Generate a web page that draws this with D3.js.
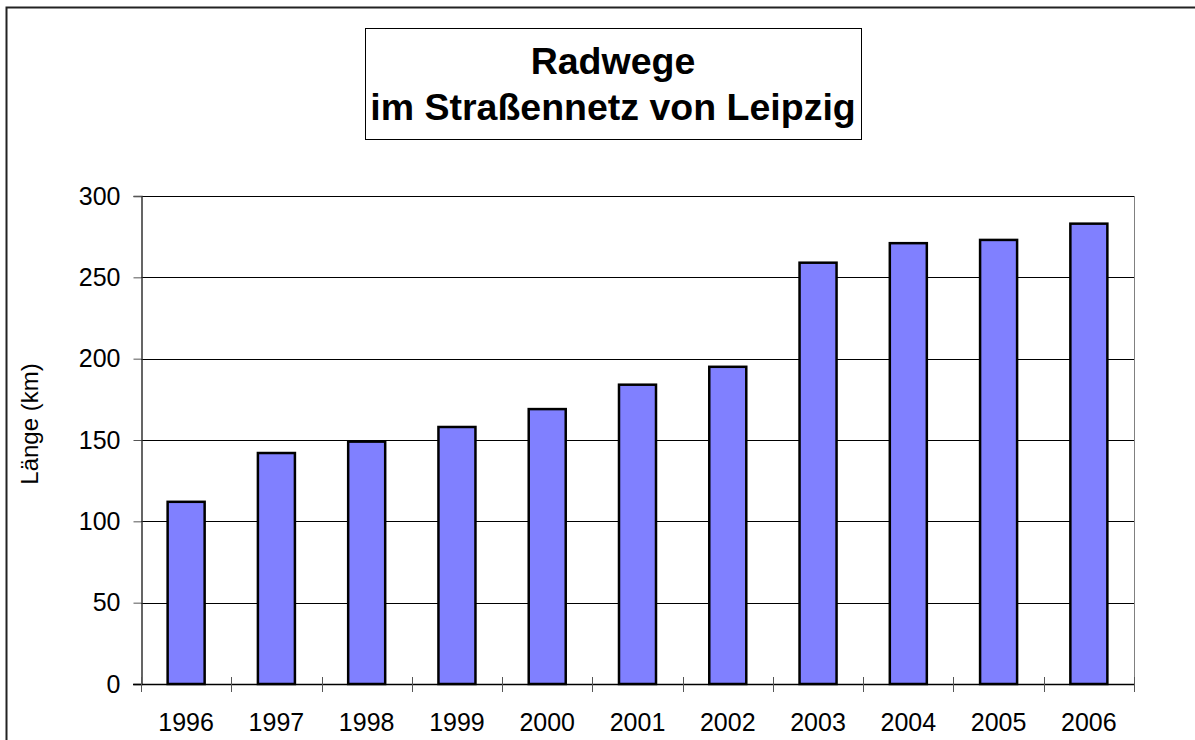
<!DOCTYPE html>
<html>
<head>
<meta charset="utf-8">
<script src="https://cdn.jsdelivr.net/npm/d3@7"></script>
<style>
  body { margin: 0; background: #fff; }
  svg { display: block; font-family: "Liberation Sans", Arial, sans-serif; }
</style>
</head>
<body>
<div id="chart"></div>
<script>
// data
const years = ["1996", "1997", "1998", "1999", "2000", "2001", "2002", "2003", "2004", "2005", "2006"];
const lengths = [112, 142, 149, 158, 169, 184, 195, 259, 271, 273, 283];
const yTicks = [0, 50, 100, 150, 200, 250, 300];
const titleLines = ["Radwege", "im Straßennetz von Leipzig"];

const width = 1195, height = 740;
const margin = { left: 141, right: 61, top: 196, bottom: 56 };

const svg = d3.select("#chart").append("svg")
    .attr("width", width)
    .attr("height", height);

// outer frame
svg.append("rect")
    .attr("x", 6.5).attr("y", 7.5)
    .attr("width", width).attr("height", height)
    .attr("fill", "none")
    .attr("stroke", "#222")
    .attr("stroke-width", 2);

const x = d3.scaleBand()
    .domain(years)
    .range([margin.left, width - margin.right])
    .paddingInner(0.59)
    .paddingOuter(0.295);

const y = d3.scaleLinear()
    .domain([0, 300])
    .range([height - margin.bottom, margin.top]);

// gridlines
svg.append("g")
  .selectAll("line")
  .data(yTicks.filter(d => d > 0))
  .enter().append("line")
    .attr("x1", margin.left).attr("x2", width - margin.right)
    .attr("y1", d => Math.round(y(d)) + 0.5).attr("y2", d => Math.round(y(d)) + 0.5)
    .attr("stroke", "#000")
    .attr("stroke-width", 1);

// right border of plot area
svg.append("line")
    .attr("x1", width - margin.right + 0.5).attr("x2", width - margin.right + 0.5)
    .attr("y1", y(300)).attr("y2", y(0))
    .attr("stroke", "#808080");

// bars
svg.append("g")
  .selectAll("rect")
  .data(lengths)
  .enter().append("rect")
    .attr("x", (d, i) => x(years[i]))
    .attr("y", d => y(d))
    .attr("width", x.bandwidth())
    .attr("height", d => y(0) - y(d))
    .attr("fill", "#8080ff")
    .attr("stroke", "#000")
    .attr("stroke-width", 2.5);

// y axis
const yAxis = svg.append("g")
    .attr("transform", `translate(${margin.left + 0.5},0)`)
    .call(d3.axisLeft(y).tickValues(yTicks).tickSize(8).tickPadding(13));
yAxis.select(".domain").attr("stroke", "#333").attr("stroke-width", 1.5);
yAxis.selectAll(".tick line").attr("stroke", "#555");
yAxis.selectAll(".tick text")
    .attr("font-size", 25)
    .attr("fill", "#000")
    .attr("font-family", "Liberation Sans, Arial, sans-serif");

// x axis: ticks at category boundaries crossing the axis line
const step = x.step();
const boundaries = d3.range(years.length + 1).map(i => margin.left + i * step);
svg.append("line")
    .attr("x1", margin.left - 8).attr("x2", width - margin.right)
    .attr("y1", y(0) + 0.5).attr("y2", y(0) + 0.5)
    .attr("stroke", "#000")
    .attr("stroke-width", 1.5);
svg.append("g")
  .selectAll("line")
  .data(boundaries)
  .enter().append("line")
    .attr("x1", d => Math.round(d) + 0.5).attr("x2", d => Math.round(d) + 0.5)
    .attr("y1", y(0) - 7).attr("y2", y(0) + 8)
    .attr("stroke", "#555");
svg.append("g")
  .selectAll("text")
  .data(years)
  .enter().append("text")
    .attr("x", d => x(d) + x.bandwidth() / 2)
    .attr("y", 731)
    .attr("text-anchor", "middle")
    .attr("font-size", 25)
    .text(d => d);

// y axis label
svg.append("text")
    .attr("transform", "translate(38,424) rotate(-90)")
    .attr("text-anchor", "middle")
    .attr("font-size", 24)
    .text("Länge (km)");

// title box
svg.append("rect")
    .attr("x", 365.5).attr("y", 28.5)
    .attr("width", 496).attr("height", 111)
    .attr("fill", "#fff")
    .attr("stroke", "#000");
svg.append("g")
  .selectAll("text")
  .data(titleLines)
  .enter().append("text")
    .attr("x", 613)
    .attr("y", (d, i) => 74 + i * 46)
    .attr("text-anchor", "middle")
    .attr("font-size", 37.5)
    .attr("font-weight", "bold")
    .text(d => d);
</script>
</body>
</html>
